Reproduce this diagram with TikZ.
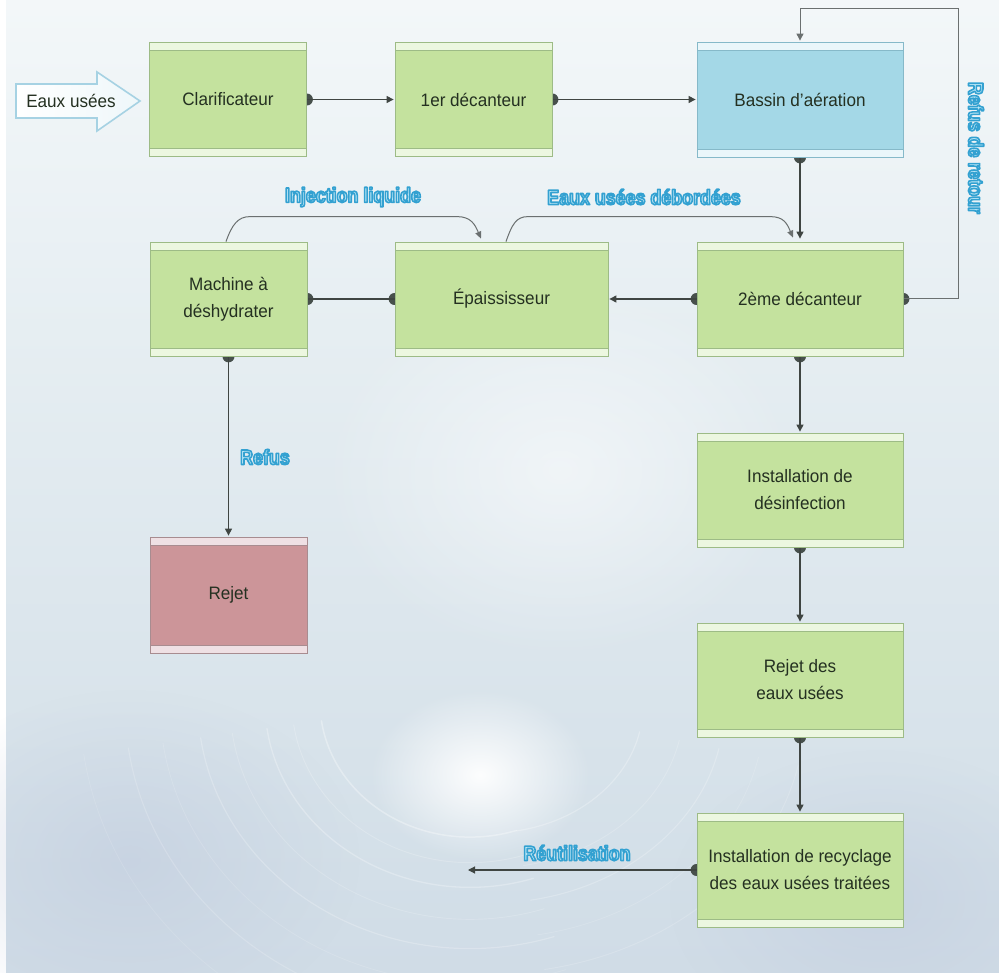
\documentclass[tikz,border=0pt]{standalone}
\usepackage{fontspec}
\setmainfont{Liberation Sans}[FakeStretch=0.95]
\newfontfamily\lblfont{Liberation Sans}[FakeStretch=0.85]
\usetikzlibrary{arrows.meta,calc,fadings}

% palette
\definecolor{gfill}{HTML}{C4E29E}
\definecolor{gstrip}{HTML}{ECF7E0}
\definecolor{gborder}{HTML}{9DBB86}
\definecolor{bfill}{HTML}{A4D8E7}
\definecolor{bstrip}{HTML}{EAF6FA}
\definecolor{bborder}{HTML}{86B9C9}
\definecolor{rfill}{HTML}{CC9599}
\definecolor{rstrip}{HTML}{EFE0E4}
\definecolor{rborder}{HTML}{A88C90}
\definecolor{boxtext}{HTML}{243021}
\definecolor{linkc}{HTML}{3F4542}
\definecolor{loopc}{HTML}{6B7070}
\definecolor{sockc}{HTML}{47504C}
\definecolor{lblin}{HTML}{BFE9F7}
\definecolor{srcout}{HTML}{A6D2E3}
\definecolor{srcin}{HTML}{EEF7FA}
\definecolor{wbA}{HTML}{F7FAFB}
\definecolor{wbB}{HTML}{E6EEF2}
\definecolor{wbC}{HTML}{D3DFE8}
\definecolor{wbD}{HTML}{BFCADD}

\pgfdeclareverticalshading{waterbg}{100bp}{color(0bp)=(wbD); color(30bp)=(wbC); color(58bp)=(wbB); color(80bp)=(wbA); color(100bp)=(wbA)}
\tikzfading[name=softspot, inner color=transparent!0, outer color=transparent!100]

\pgfdeclarelayer{bg}
\pgfdeclarelayer{links}
\pgfsetlayers{bg,links,main}

% light-cyan lettering stroked with a darker cyan outline (fill + stroke render mode)
\newcommand\glowtext[1]{{\color{lblin}%
  \special{pdf:code 0.20 0.63 0.82 RG 1.6 w 1 j 2 Tr}#1\special{pdf:code 0 Tr}}}

\begin{document}
\begin{tikzpicture}[x=1pt,y=-1pt,
  stagebox/.style n args={3}{rectangle, fill=#1, draw=#3, line width=0.8pt,
    minimum width=157pt, minimum height=114pt, inner sep=2pt, align=center,
    text=boxtext, font=\fontsize{18}{27}\selectfont,
    path picture={
      \fill[#2] (path picture bounding box.north west) rectangle ([yshift=-8pt]path picture bounding box.north east);
      \fill[#2] (path picture bounding box.south west) rectangle ([yshift=8pt]path picture bounding box.south east);
      \draw[#3, line width=0.6pt] ([yshift=-8pt]path picture bounding box.north west) -- ([yshift=-8pt]path picture bounding box.north east);
      \draw[#3, line width=0.6pt] ([yshift=8pt]path picture bounding box.south west) -- ([yshift=8pt]path picture bounding box.south east);
    }},
  gbox/.style={stagebox={gfill}{gstrip}{gborder}},
  bbox/.style={stagebox={bfill}{bstrip}{bborder}},
  rbox/.style={stagebox={rfill}{rstrip}{rborder}},
  link/.style={draw=linkc, line width=1.1pt, -{Triangle[length=7pt,width=7pt]}, shorten >=1pt},
  plainlink/.style={draw=linkc, line width=1.1pt},
  looplink/.style={draw=loopc, line width=1pt, -{Triangle[length=7pt,width=7pt]}, shorten >=1pt},
  curvelink/.style={draw=loopc, line width=1pt, -{Triangle[length=7pt,width=6pt]}},
  socket/.style={fill=sockc},
  lbl/.style={font=\lblfont\bfseries\fontsize{21}{24}\selectfont, inner sep=1pt},
  srctext/.style={font=\fontsize{18}{22}\selectfont, text=boxtext, inner sep=0pt},
  streak/.style={white, line cap=round}
]
\useasboundingbox (0,0) rectangle (999,973);

% water backdrop
\begin{pgfonlayer}{bg}
  \fill[white] (0,0) rectangle (999,973);
  \shade[shading=waterbg] (6,0) rectangle (999,973);
  \fill[white, opacity=0.5, path fading=softspot] (560,470) ellipse [x radius=240pt, y radius=190pt];
  \fill[wbD, opacity=0.55, path fading=softspot] (130,860) ellipse [x radius=230pt, y radius=170pt];
  \fill[wbD, opacity=0.5, path fading=softspot] (880,900) ellipse [x radius=210pt, y radius=150pt];
  \fill[white, opacity=0.95, path fading=softspot] (480,775) ellipse [x radius=110pt, y radius=85pt];
  % swirl streaks curling round the funnel
  \foreach \r/\o/\w in {150/0.32/1.5, 178/0.2/0.9, 205/0.27/1.3, 240/0.17/0.9, 272/0.22/1.2, 310/0.14/0.8, 345/0.18/1.1, 390/0.12/0.8} {
    \draw[streak, line width=\w pt, opacity=\o] (470,700) ++(172:\r)
      arc[start angle=172, end angle=72, x radius=\r, y radius=0.9*\r];
  }
  \foreach \r/\o/\w in {170/0.26/1.2, 215/0.18/0.9, 260/0.22/1.1, 305/0.14/0.8, 350/0.16/1.0} {
    \draw[streak, line width=\w pt, opacity=\o] (490,700) ++(12:0.9*\r)
      arc[start angle=12, end angle=80, x radius=0.9*\r, y radius=0.75*\r];
  }
\end{pgfonlayer}

% incoming block arrow
\filldraw[left color=white, right color=srcin, draw=srcout, line width=1.6pt, line join=miter]
  (16,84) -- (97,84) -- (97,72) -- (140,101) -- (97,131) -- (97,118) -- (16,118) -- cycle;
\node[srctext] (src) at (71,101) {Eaux usées};

% process stages
\node[gbox] (clar)    at (228,99.5)  {Clarificateur};
\node[gbox] (dec1)    at (473.5,99.5) {1er décanteur};
\node[bbox, minimum width=206pt, minimum height=115pt] (bassin) at (800,99.5) {Bassin d’aération};
\node[gbox] (mach)    at (228.5,299) {Machine à\\déshydrater};
\node[gbox, minimum width=213pt] (epa) at (501.5,299) {Épaississeur};
\node[gbox, minimum width=206pt] (sec) at (800,299) {2ème décanteur};
\node[gbox, minimum width=206pt] (desinf) at (800,490) {Installation de\\désinfection};
\node[gbox, minimum width=206pt] (rejeaux) at (800,680) {Rejet des\\eaux usées};
\node[gbox, minimum width=206pt] (recyc) at (800,870) {Installation de recyclage\\des eaux usées traitées};
\node[rbox, minimum height=116pt] (rejet) at (228.5,595) {Rejet};
\coordinate (reuse) at (467,870);

% flow labels
\node[lbl] (lInj) at (353,197) {\glowtext{Injection liquide}};
\node[lbl] (lDeb) at (644,197) {\glowtext{Eaux usées débordées}};
\node[lbl, rotate=-90] (lRet) at (976,148) {\glowtext{Refus de retour}};
\node[lbl] (lRef) at (265,457) {\glowtext{Refus}};
\node[lbl] (lReu) at (577,853) {\glowtext{Réutilisation}};

% connectors
\begin{pgfonlayer}{links}
  \foreach \s in {clar.east, dec1.east, bassin.south, sec.east, sec.west, epa.west,
                  mach.east, mach.south, sec.south, desinf.south, rejeaux.south, recyc.west}
    \fill[socket] (\s) circle[radius=6pt];

  \draw[link] (clar.east) -- (dec1.west);
  \draw[link] (dec1.east) -- (bassin.west);
  \draw[link] (bassin.south) -- ([yshift=2pt]sec.north);
  \draw[looplink] (sec.east) -- ++(55,0) |- ([yshift=33pt]bassin.north) -- (bassin.north);
  \draw[link] (sec.west) -- (epa.east);
  \draw[plainlink] (epa.west) -- (mach.east);
  \draw[link] (mach.south) -- (rejet.north);
  \draw[link] (sec.south) -- (desinf.north);
  \draw[link] (desinf.south) -- (rejeaux.north);
  \draw[link] (rejeaux.south) -- (recyc.north);
  \draw[link] (recyc.west) -- (reuse);

  \draw[curvelink] ([xshift=-2.5pt]mach.north) .. controls +(6,-17) and +(-12,0) .. ++(24,-25)
     -- ++(207,0) .. controls +(14,0) and +(-6,-14) .. ([xshift=-20.5pt,yshift=3pt]epa.north);
  \draw[curvelink] ([xshift=4.5pt]epa.north) .. controls +(6,-17) and +(-12,0) .. ++(22,-25)
     -- ++(242,0) .. controls +(14,0) and +(-6,-14) .. ([xshift=-7pt,yshift=4pt]sec.north);
\end{pgfonlayer}
\end{tikzpicture}
\end{document}
